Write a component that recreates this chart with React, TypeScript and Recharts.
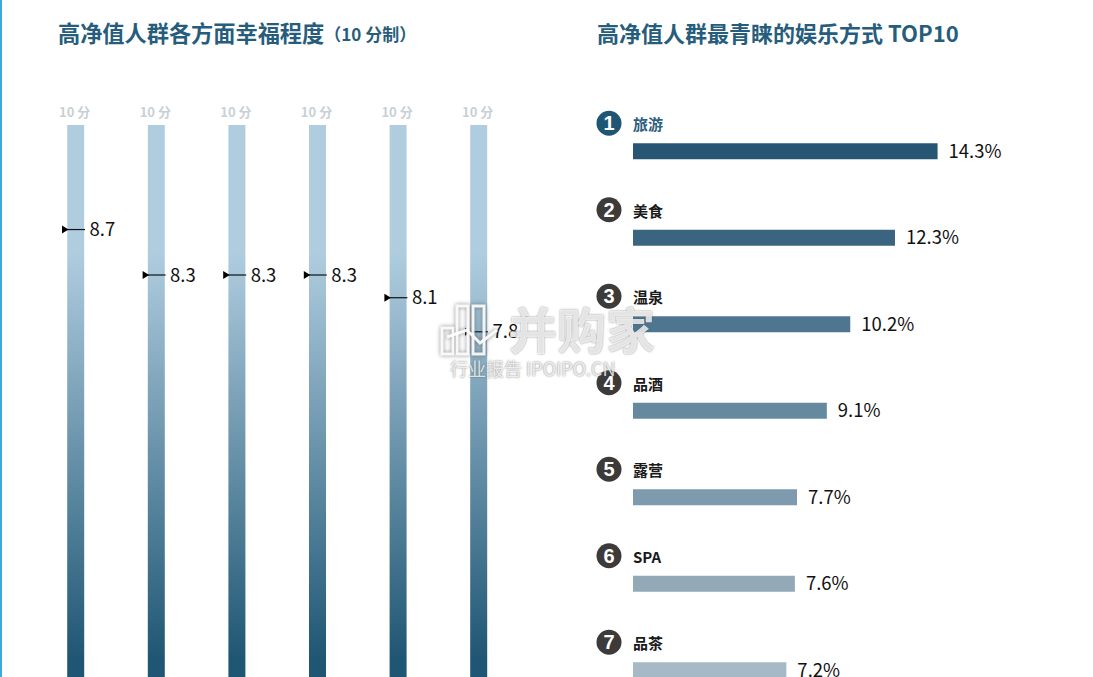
import React from "react";
import { ComposedChart, BarChart, Bar, Line, XAxis, YAxis, Cell, LabelList } from "recharts";

const FONT = '"Noto Sans CJK SC", "Noto Sans", sans-serif';

// Left chart: happiness scores (10-point scale). Category names lie below the cropped picture.
const aspects = ["1", "2", "3", "4", "5", "6"];
const scores = [8.7, 8.3, 8.3, 8.3, 8.1, 7.8];
const fullScores = [10, 10, 10, 10, 10, 10];

// Right chart: favourite leisure activities (only the top seven are visible).
const activities = ["旅游", "美食", "温泉", "品酒", "露营", "SPA", "品茶"];
const shares = [14.3, 12.3, 10.2, 9.1, 7.7, 7.6, 7.2];
const shareColors = ["#265673", "#3a6480", "#4f7690", "#658aa0", "#7e9aae", "#94a9b8", "#a6b9c6"];

const happinessData = aspects.map((aspect, i) => ({ aspect, score: scores[i], full: fullScores[i] }));
const leisureData = activities.map((name, i) => ({ name, share: shares[i], rank: i + 1 }));

const Marker = (props: any) => {
  const { cx, cy, index } = props;
  return (
    <g key={index}>
      <line x1={cx - 12} x2={cx + 9.5} y1={cy} y2={cy} stroke="#111" strokeWidth={1.2} />
      <path d={`M${cx - 13.5} ${cy - 4}L${cx - 7} ${cy}L${cx - 13.5} ${cy + 4}Z`} fill="#000" />
    </g>
  );
};

const FullLabel = (props: any) => {
  const { x, y, width, value } = props;
  return (
    <text x={x + width / 2 - 1} y={y - 8} textAnchor="middle" fontSize={13} fontWeight={700} fill="#c9d0d5" fontFamily={FONT}>
      {`${value} 分`}
    </text>
  );
};

const RankLabel = (props: any) => {
  const { x, y, height, index, value } = props;
  const rank = index + 1;
  const first = index === 0;
  const cy = y + height / 2;
  return (
    <g>
      <circle cx={x - 24} cy={cy - 28} r={12.5} fill={first ? "#1f5673" : "#3d3a3a"} />
      <text x={x - 24} y={cy - 21} textAnchor="middle" fontSize={20} fontWeight={700} fill="#fff" fontFamily="Liberation Sans">
        {rank}
      </text>
      <text x={x} y={cy - 21} fontSize={15} fontWeight={700} fill={first ? "#2f5f80" : "#1a1a1a"} fontFamily={FONT}>
        {value}
      </text>
    </g>
  );
};

const titleStyle: React.CSSProperties = {
  position: "absolute",
  top: 17,
  fontFamily: FONT,
  fontSize: 22.2,
  lineHeight: "30px",
  fontWeight: 700,
  color: "#275d7c",
  whiteSpace: "nowrap",
};

export default function App() {
  return (
    <div style={{ position: "fixed", left: 0, top: 0, width: 1093, height: 677, overflow: "hidden", background: "#fff", fontFamily: FONT }}>
      <div style={{ position: "absolute", left: 0, top: 0, width: 2, height: 677, background: "#3fa9d8" }} />
      <div style={{ ...titleStyle, left: 58 }}>
        高净值人群各方面幸福程度<span style={{ fontSize: 17, position: "relative", top: -1.5 }}>（10 分制）</span>
      </div>
      <div style={{ ...titleStyle, left: 597, fontSize: 22 }}>高净值人群最青睐的娱乐方式 TOP10</div>

      <div style={{ position: "absolute", left: 0, top: 0 }}>
        <ComposedChart width={560} height={760} data={happinessData} margin={{ top: 125, bottom: 60, left: 35.2, right: 41.2 }}>
          <defs>
            <linearGradient id="gauge" x1="0" y1="0" x2="0" y2="1">
              <stop offset="0.22" stopColor="#b0cde0" />
              <stop offset="0.93" stopColor="#1f5673" />
            </linearGradient>
          </defs>
          <XAxis dataKey="aspect" hide />
          <YAxis yAxisId="gauge" hide domain={[0, 10]} />
          <YAxis yAxisId="marker" hide domain={[4.56, 9.62]} />
          <Bar yAxisId="gauge" dataKey="full" barSize={17} fill="url(#gauge)" isAnimationActive={false}>
            <LabelList dataKey="full" content={FullLabel} />
          </Bar>
          <Line yAxisId="marker" dataKey="score" stroke="none" dot={Marker} activeDot={false} isAnimationActive={false}>
            <LabelList
              dataKey="score"
              position="right"
              offset={14}
              formatter={(v: any) => Number(v).toFixed(1)}
              style={{ fontSize: 18.5, fill: "#111", fontFamily: FONT }}
            />
          </Line>
        </ComposedChart>
      </div>

      <div style={{ position: "absolute", left: 560, top: 0 }}>
        <BarChart width={533} height={760} layout="vertical" data={leisureData} margin={{ top: 108.25, bottom: 46.25, left: 73, right: 34 }}>
          <XAxis type="number" hide domain={[0, 20]} />
          <YAxis type="category" dataKey="name" hide />
          <Bar dataKey="share" barSize={16} isAnimationActive={false}>
            {leisureData.map((d, i) => (
              <Cell key={d.name} fill={shareColors[i]} />
            ))}
            <LabelList dataKey="name" content={RankLabel} />
            <LabelList
              dataKey="share"
              position="right"
              offset={11}
              formatter={(v: any) => `${Number(v).toFixed(1)}%`}
              style={{ fontSize: 18.5, fill: "#111", fontFamily: FONT }}
            />
          </Bar>
        </BarChart>
      </div>

      {/* Watermark */}
      <div style={{ position: "absolute", left: 438, top: 303, width: 230, height: 90, pointerEvents: "none" }}>
        <svg width={66} height={56} style={{ position: "absolute", left: 0, top: 0, filter: "drop-shadow(0 0 2px rgba(90,90,90,0.8))" }}>
          <g fill="none" stroke="rgba(255,255,255,0.9)" strokeWidth={3}>
            <rect x={4} y={25} width={11} height={26} />
            <rect x={19} y={3} width={11} height={48} />
            <rect x={35} y={3} width={11} height={48} />
            <polyline points="9,34 29,27 42,40 59,27" />
          </g>
        </svg>
        <div style={{ position: "absolute", left: 70, top: -5, fontSize: 49, lineHeight: "60px", fontWeight: 700, color: "rgba(255,255,255,0.78)", textShadow: "0 0 2px rgba(80,80,80,0.7)", whiteSpace: "nowrap" }}>
          并购家
        </div>
        <div style={{ position: "absolute", left: 12, top: 52, fontSize: 18, lineHeight: "26px", color: "rgba(255,255,255,0.8)", textShadow: "0 0 2px rgba(80,80,80,0.8)", whiteSpace: "nowrap" }}>
          行业报告 IPOIPO.CN
        </div>
      </div>
    </div>
  );
}
